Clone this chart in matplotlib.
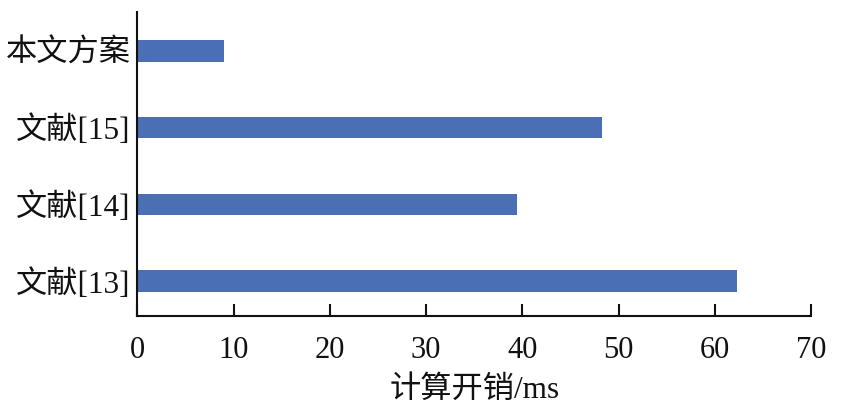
import matplotlib
matplotlib.use("Agg")
import matplotlib.pyplot as plt

plt.rcParams['font.family'] = ['Liberation Serif', 'Noto Sans CJK SC', 'DejaVu Sans']

categories = ['文献[13]', '文献[14]', '文献[15]', '本文方案']
values = [62.3, 39.4, 48.3, 9.0]
xticks = [0, 10, 20, 30, 40, 50, 60, 70]
xlabel = '计算开销/ms'

fig = plt.figure(figsize=(8.42, 4.16), dpi=100)
ax = fig.add_axes([0.1633, 0.2411, 0.9632 - 0.1633, 0.9719 - 0.2411])

ypos = list(range(len(categories)))
ax.barh(ypos, values, height=0.28, color='#4a6fb5')

ax.set_xlim(0, 70)
ax.set_ylim(-0.45, 3.51)
ax.set_xticks(xticks)
ax.set_xticklabels([str(t) for t in xticks])
ax.set_yticks(ypos)
ax.set_yticklabels(categories)

for s in ['top', 'right']:
    ax.spines[s].set_visible(False)
for s in ['left', 'bottom']:
    ax.spines[s].set_linewidth(1.5)
    ax.spines[s].set_color('#111111')

ax.tick_params(axis='x', direction='in', length=9, width=1.5, labelsize=22, pad=14.5, colors='#111111')
ax.tick_params(axis='y', length=0, labelsize=22.5, pad=5, colors='#111111')
ax.set_xlabel(xlabel, fontsize=22.5, labelpad=8, color='#111111')

fig.savefig('out.png', dpi=100)
